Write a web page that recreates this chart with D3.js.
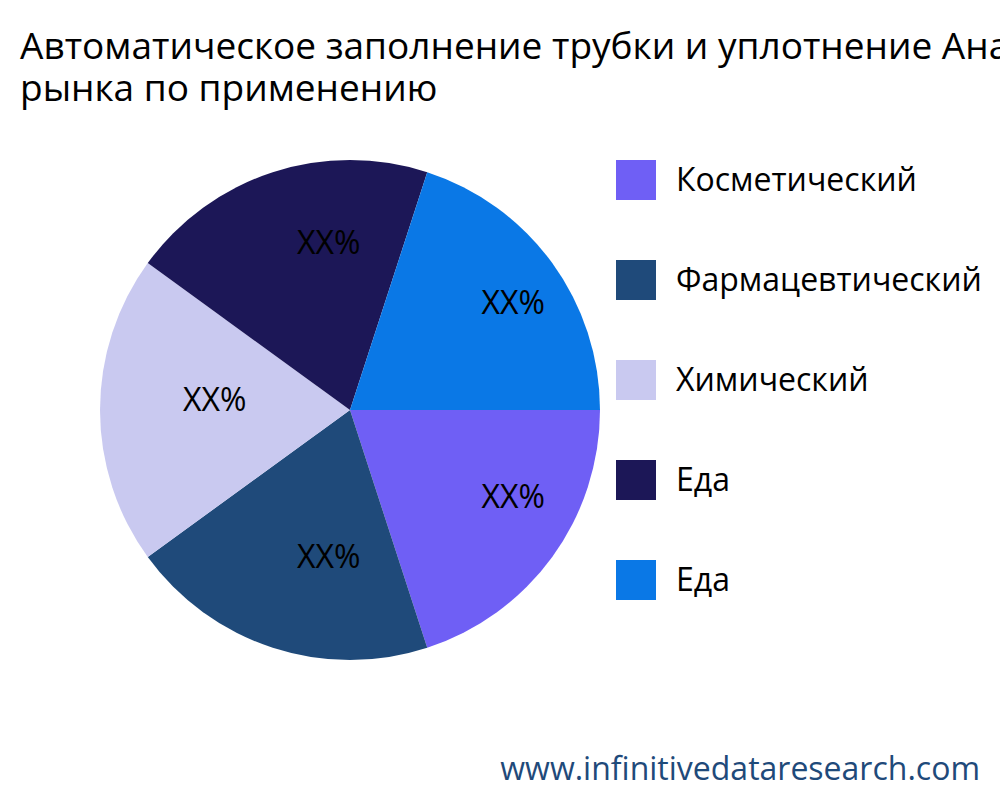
<!DOCTYPE html>
<html><head><meta charset="utf-8">
<script src="https://cdn.jsdelivr.net/npm/d3@7"></script>
<style>body{margin:0;background:#fff}</style></head>
<body><svg id="c" width="1000" height="800"></svg>
<script>
const categories=["Косметический","Фармацевтический","Химический","Еда","Еда"];
const values=[20,20,20,20,20];
const labels=["XX%","XX%","XX%","XX%","XX%"];
const colors=["#6f5ff5","#1f4a7a","#c9c9f0","#1c1757","#0a78e6"];
const titleLines=["Автоматическое заполнение трубки и уплотнение Анализ","рынка по применению"];
const svg=d3.select("#c");
const font="'Open Sans', sans-serif";
svg.selectAll("text.t").data(titleLines).enter().append("text")
 .attr("x",20).attr("y",(d,i)=>59+i*42).attr("font-family",font).attr("font-size",37).attr("fill","#000").text(d=>d);
const g=svg.append("g").attr("transform","translate(350,410)");
const pie=d3.pie().sort(null).startAngle(Math.PI/2).endAngle(Math.PI/2+2*Math.PI);
const arcs=pie(values);
const arc=d3.arc().innerRadius(0).outerRadius(250);
const la=d3.arc().innerRadius(165).outerRadius(165);
g.selectAll("path").data(arcs).enter().append("path").attr("d",arc).attr("fill",(d,i)=>colors[i]);
g.selectAll("text").data(arcs).enter().append("text")
 .attr("transform",d=>{const c=la.centroid(d);return `translate(${c[0]-2},${c[1]+1})`;})
 .attr("text-anchor","start").attr("font-family",font).attr("font-size",32)
 .text((d,i)=>labels[i]);
const lg=svg.append("g");
categories.forEach((c,i)=>{
 lg.append("rect").attr("x",616).attr("y",160+i*100).attr("width",40).attr("height",40).attr("fill",colors[i]);
 lg.append("text").attr("x",676).attr("y",180+i*100).attr("dy","0.35em").attr("font-family",font).attr("font-size",32).text(c);
});
svg.append("text").attr("x",980).attr("y",780).attr("text-anchor","end").attr("font-family",font).attr("font-size",32).attr("fill","#1f4a7a").text("www.infinitivedataresearch.com");
</script></body></html>
